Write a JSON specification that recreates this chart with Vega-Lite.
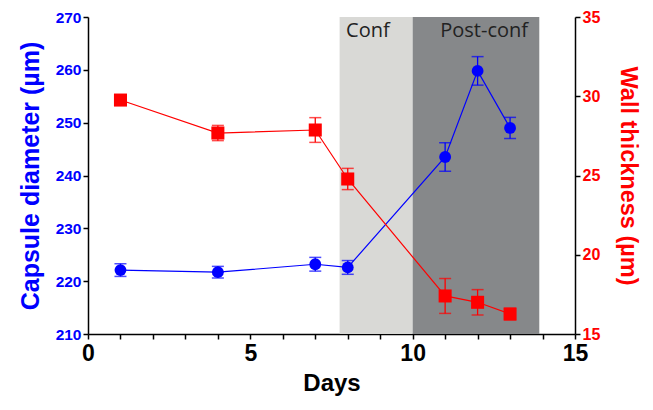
{
  "$schema": "https://vega.github.io/schema/vega-lite/v6.json",
  "width": 487,
  "height": 317,
  "autosize": "none",
  "padding": {"left": 88, "top": 17, "right": 78, "bottom": 76},
  "background": "white",
  "config": {
    "view": {"stroke": null},
    "font": "Liberation Sans",
    "axis": {"grid": false, "domainColor": "black", "domainWidth": 1.5, "tickColor": "black", "tickWidth": 1.5, "tickSize": 5, "labelOverlap": false, "labelFlush": false, "labelBound": false},
    "axisX": {"labelOverlap": false, "tickCount": 20, "labelExpr": "datum.value % 5 === 0 ? datum.label : ''", "labelFontSize": 23, "labelFontWeight": "bold", "labelColor": "black", "labelPadding": 3, "titleFontSize": 24, "titleFontWeight": "bold", "titleColor": "black", "titlePadding": 6}
  },
  "datasets": {
    "pts": [
      {"day": 1, "diam": 222.1, "diamLo": 220.9, "diamHi": 223.3, "wall": 29.76, "wallLo": 29.5, "wallHi": 30.02},
      {"day": 4, "diam": 221.7, "diamLo": 220.6, "diamHi": 222.8, "wall": 27.68, "wallLo": 27.2, "wallHi": 28.16},
      {"day": 7, "diam": 223.2, "diamLo": 221.9, "diamHi": 224.5, "wall": 27.87, "wallLo": 27.09, "wallHi": 28.65},
      {"day": 8, "diam": 222.6, "diamLo": 221.3, "diamHi": 223.9, "wall": 24.78, "wallLo": 24.11, "wallHi": 25.45},
      {"day": 11, "diam": 243.5, "diamLo": 240.8, "diamHi": 246.2, "wall": 17.4, "wallLo": 16.3, "wallHi": 18.5},
      {"day": 12, "diam": 259.8, "diamLo": 257.1, "diamHi": 262.5, "wall": 17.0, "wallLo": 16.2, "wallHi": 17.8},
      {"day": 13, "diam": 249.0, "diamLo": 247.0, "diamHi": 251.0, "wall": 16.26, "wallLo": 15.9, "wallHi": 16.62}
    ],
    "regions": [
      {"start": 7.75, "end": 10.0, "name": "Conf"},
      {"start": 10.0, "end": 13.9, "name": "Post-conf"}
    ],
    "labels": [
      {"lx": 7.95, "ly": 267.3, "label": "Conf"},
      {"lx": 10.85, "ly": 267.3, "label": "Post-conf"}
    ]
  },
  "layer": [
    {
      "layer": [
        {
          "data": {"name": "regions"},
          "mark": {"type": "rect"},
          "encoding": {
            "x": {"field": "start", "type": "quantitative", "title": "Days", "scale": {"domain": [0, 15], "nice": false},
              "axis": {"values": [0,1,2,3,4,5,6,7,8,9,10,11,12,13,14,15], "tickCount": 20}},
            "x2": {"field": "end"},
            "color": {"field": "name", "type": "nominal", "scale": {"domain": ["Conf", "Post-conf"], "range": ["#d9d9d6", "#86888a"]}, "legend": null}
          }
        },
        {
          "data": {"name": "labels"},
          "mark": {"type": "text", "align": "left", "baseline": "middle", "font": "Open Sans", "fontSize": 20, "color": "#222222"},
          "encoding": {
            "x": {"field": "lx", "type": "quantitative", "title": "Days"},
            "y": {"field": "ly", "type": "quantitative", "title": "Capsule diameter (µm)", "scale": {"domain": [210, 270], "nice": false, "zero": false},
              "axis": {"values": [210,220,230,240,250,260,270], "labelOverlap": false, "labelColor": "blue", "labelFontSize": 15.5, "labelFontWeight": "bold", "labelPadding": 2, "titleColor": "blue", "titleFontSize": 25, "titleFontWeight": "bold", "titlePadding": 12}},
            "text": {"field": "label"}
          }
        },
        {
          "data": {"name": "pts"},
          "mark": {"type": "line", "color": "blue", "strokeWidth": 1.2},
          "encoding": {
            "x": {"field": "day", "type": "quantitative", "title": "Days"},
            "y": {"field": "diam", "type": "quantitative", "title": "Capsule diameter (µm)"}
          }
        },
        {
          "data": {"name": "pts"},
          "mark": {"type": "errorbar", "color": "blue", "thickness": 1.3, "ticks": {"size": 12, "thickness": 1.5, "color": "blue"}},
          "encoding": {
            "x": {"field": "day", "type": "quantitative", "title": "Days"},
            "y": {"field": "diamLo", "type": "quantitative", "title": "Capsule diameter (µm)"},
            "y2": {"field": "diamHi"}
          }
        },
        {
          "data": {"name": "pts"},
          "mark": {"type": "point", "shape": "circle", "filled": true, "size": 140, "color": "blue", "opacity": 1},
          "encoding": {
            "x": {"field": "day", "type": "quantitative", "title": "Days"},
            "y": {"field": "diam", "type": "quantitative", "title": "Capsule diameter (µm)"}
          }
        }
      ]
    },
    {
      "layer": [
        {
          "data": {"name": "pts"},
          "mark": {"type": "line", "color": "red", "strokeWidth": 1.2},
          "encoding": {
            "x": {"field": "day", "type": "quantitative", "title": "Days"},
            "y": {"field": "wall", "type": "quantitative", "title": "Wall thickness (µm)", "scale": {"domain": [15, 35], "nice": false, "zero": false},
              "axis": {"orient": "right", "values": [15,20,25,30,35], "labelOverlap": false, "labelColor": "red", "labelFontSize": 16, "labelFontWeight": "bold", "labelPadding": 2, "titleColor": "red", "titleFontSize": 23.5, "titleFontWeight": "bold", "titlePadding": 16}}
          }
        },
        {
          "data": {"name": "pts"},
          "mark": {"type": "errorbar", "color": "red", "thickness": 1.3, "ticks": {"size": 12, "thickness": 1.5, "color": "red"}},
          "encoding": {
            "x": {"field": "day", "type": "quantitative", "title": "Days"},
            "y": {"field": "wallLo", "type": "quantitative", "title": "Wall thickness (µm)"},
            "y2": {"field": "wallHi"}
          }
        },
        {
          "data": {"name": "pts"},
          "mark": {"type": "point", "shape": "square", "filled": true, "size": 170, "color": "red", "opacity": 1},
          "encoding": {
            "x": {"field": "day", "type": "quantitative", "title": "Days"},
            "y": {"field": "wall", "type": "quantitative", "title": "Wall thickness (µm)"}
          }
        }
      ]
    }
  ],
  "resolve": {"scale": {"y": "independent"}}
}
